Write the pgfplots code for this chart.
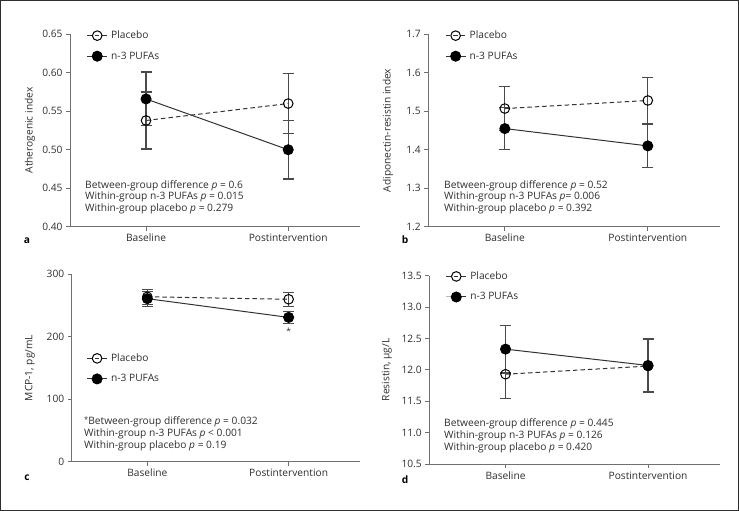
\documentclass[border=0pt]{standalone}
\usepackage{fontspec}
\setmainfont{Open Sans}
\usepackage{pgfplots}
\pgfplotsset{compat=1.18}
\definecolor{txt}{HTML}{2E2E2E}
\definecolor{ln}{HTML}{333333}
\definecolor{eb}{HTML}{4A4A4A}
\definecolor{ax}{HTML}{707070}
\newcommand{\fs}{\fontsize{10.2}{11.5}\selectfont}
\tikzset{ann/.style={anchor=base west, inner sep=0pt, font=\fs, text=txt}}
\pgfplotsset{
 panel/.style={
  scale only axis,
  axis x line*=bottom, axis y line*=left,
  xmin=-0.535, xmax=1.505,
  xtick={0,1}, xticklabels={Baseline,Postintervention},
  tick align=outside, major tick length=4pt,
  axis line style={-, color=ax, line width=0.9pt},
  tick style={color=ax, line width=0.9pt},
  ticklabel style={font=\fs, color=txt},
  /pgf/number format/assume math mode=true,
  ylabel style={font=\fs, color=txt, anchor=center},
  clip=false,
  legend image code/.code={\draw[mark repeat=2,mark phase=2,##1] plot coordinates {(0pt,0pt) (10pt,0pt) (20pt,0pt)};},
  legend style={draw=none, fill=none, inner sep=0pt, row sep=4.5pt, anchor=west,
    nodes={inner sep=3.5pt, font=\fs, text=txt}},
  legend cell align=left,
 },
 plac/.style={ln, line width=1pt, dash pattern=on 4.5pt off 3pt, mark=o, mark size=4.8pt,
   mark options={solid, line width=1pt, draw=black},
   error bars/y dir=both, error bars/y explicit,
   error bars/error bar style={eb, line width=1.2pt, solid},
   error bars/error mark options={rotate=90, mark size=5.5pt, eb, line width=1.2pt, solid}},
 n3/.style={ln, line width=1pt, solid, mark=*, mark size=5pt,
   mark options={solid, fill=black, draw=black},
   error bars/y dir=both, error bars/y explicit,
   error bars/error bar style={eb, line width=1.2pt, solid},
   error bars/error mark options={rotate=90, mark size=5.5pt, eb, line width=1.2pt, solid}},
}
\newcommand{\pl}[1]{\textit{p}}
\begin{document}
\begin{tikzpicture}[x=1pt,y=1pt]
\useasboundingbox (0,0) rectangle (739,511);
\draw[line width=1.4pt, color=txt] (0.7,0.7) rectangle (738.3,510.3);

% ---------------- a
\begin{axis}[panel, at={(70pt,284.3pt)}, anchor=south west, width=290pt, height=192.4pt,
  ymin=0.40, ymax=0.65, ytick={0.40,0.45,...,0.65},
  yticklabel style={/pgf/number format/.cd, fixed, fixed zerofill, precision=2},
  ylabel={Atherogenic index}, ylabel style={at={(axis description cs:-0.138,0.5)}},
  legend style={at={(axis description cs:0.057,0.940)}}]
\addplot[plac] coordinates {(0,0.538) +- (0,0.037) (1,0.560) +- (0,0.039)};
\addplot[n3] coordinates {(0,0.566) +- (0,0.035) (1,0.500) +- (0,0.038)};
\legend{Placebo, n-3 PUFAs}
\node[ann] at ([xshift=15pt,yshift=38.4pt]axis description cs:0,0) {Between-group difference \pl{} = 0.6};
\node[ann] at ([xshift=15pt,yshift=26.9pt]axis description cs:0,0) {Within-group n-3 PUFAs \pl{} = 0.015};
\node[ann] at ([xshift=15pt,yshift=15.4pt]axis description cs:0,0) {Within-group placebo \pl{} = 0.279};
\node[font=\fs\bfseries] at ([xshift=-43pt,yshift=-14pt]axis description cs:0,0) {a};
\end{axis}

% ---------------- b
\begin{axis}[panel, at={(428.3pt,284.3pt)}, anchor=south west, width=291.7pt, height=192.4pt,
  ymin=1.2, ymax=1.7, ytick={1.2,1.3,...,1.7},
  yticklabel style={/pgf/number format/.cd, fixed, fixed zerofill, precision=1},
  ylabel={Adiponectin-resistin index}, ylabel style={at={(axis description cs:-0.138,0.5)}},
  legend style={at={(axis description cs:0.057,0.940)}}]
\addplot[plac] coordinates {(0,1.507) +- (0,0.057) (1,1.528) +- (0,0.060)};
\addplot[n3] coordinates {(0,1.455) +- (0,0.055) (1,1.410) +- (0,0.057)};
\legend{Placebo, n-3 PUFAs}
\node[ann] at ([xshift=15.7pt,yshift=38.4pt]axis description cs:0,0) {Between-group difference \pl{} = 0.52};
\node[ann] at ([xshift=15.7pt,yshift=26.9pt]axis description cs:0,0) {Within-group n-3 PUFAs \pl{}= 0.006};
\node[ann] at ([xshift=15.7pt,yshift=15.4pt]axis description cs:0,0) {Within-group placebo \pl{} = 0.392};
\node[font=\fs\bfseries] at ([xshift=-23.3pt,yshift=-13.3pt]axis description cs:0,0) {b};
\end{axis}

% ---------------- c
\begin{axis}[panel, at={(71.7pt,49.3pt)}, anchor=south west, width=288.3pt, height=187.4pt,
  ymin=0, ymax=300, ytick={0,100,200,300},
  ylabel={MCP-1, pg/mL}, ylabel style={at={(axis description cs:-0.145,0.5)}},
  legend style={at={(axis description cs:0.051,0.497)}}]
\addplot[plac] coordinates {(0,264) +- (0,12) (1,260) +- (0,11)};
\addplot[n3] coordinates {(0,261) +- (0,12) (1,231) +- (0,10)};
\legend{Placebo, n-3 PUFAs}
\node[font=\fontsize{8.5}{9}\selectfont, text=txt] at (axis cs:1,208) {*};
\node[ann] at ([xshift=12.3pt,yshift=37pt]axis description cs:0,0) {\raisebox{0.45ex}{\fontsize{7.5}{8}\selectfont *}Between-group difference \pl{} = 0.032};
\node[ann] at ([xshift=12.3pt,yshift=25.2pt]axis description cs:0,0) {Within-group n-3 PUFAs \pl{} < 0.001};
\node[ann] at ([xshift=12.3pt,yshift=13.6pt]axis description cs:0,0) {Within-group placebo \pl{} = 0.19};
\node[font=\fs\bfseries] at ([xshift=-44.7pt,yshift=-16pt]axis description cs:0,0) {c};
\end{axis}

% ---------------- d
\begin{axis}[panel, at={(429.3pt,47pt)}, anchor=south west, width=290.7pt, height=188.3pt,
  ymin=10.5, ymax=13.5, ytick={10.5,11.0,...,13.5},
  yticklabel style={/pgf/number format/.cd, fixed, fixed zerofill, precision=1},
  ylabel={Resistin, µg/L}, ylabel style={at={(axis description cs:-0.146,0.5)}},
  legend style={at={(axis description cs:0.056,0.942)}}]
\addplot[plac] coordinates {(0,11.93) +- (0,0.39) (1,12.06) +- (0,0.42)};
\addplot[n3] coordinates {(0,12.33) +- (0,0.38) (1,12.07) +- (0,0.42)};
\legend{Placebo, n-3 PUFAs}
\node[ann] at ([xshift=14.7pt,yshift=37.3pt]axis description cs:0,0) {Between-group difference \pl{} = 0.445};
\node[ann] at ([xshift=14.7pt,yshift=25.5pt]axis description cs:0,0) {Within-group n-3 PUFAs \pl{} = 0.126};
\node[ann] at ([xshift=14.7pt,yshift=13.9pt]axis description cs:0,0) {Within-group placebo \pl{} = 0.420};
\node[font=\fs\bfseries] at ([xshift=-24.3pt,yshift=-16pt]axis description cs:0,0) {d};
\end{axis}
\end{tikzpicture}
\end{document}
